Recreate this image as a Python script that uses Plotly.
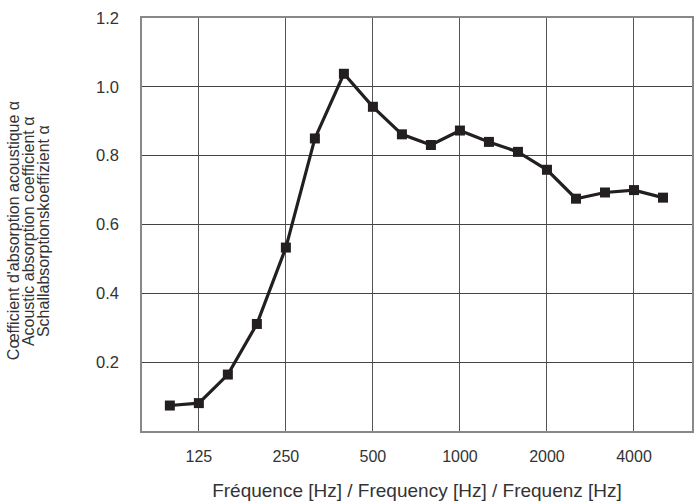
import plotly.graph_objects as go

# One-third octave band centre frequencies (Hz)
freqs = [100, 125, 160, 200, 250, 315, 400, 500, 630, 800,
         1000, 1250, 1600, 2000, 2500, 3150, 4000, 5000]
# Sound absorption coefficient alpha per band
alpha = [0.074, 0.081, 0.164, 0.311, 0.533, 0.850, 1.038, 0.942, 0.862, 0.831,
         0.873, 0.840, 0.811, 0.759, 0.675, 0.693, 0.700, 0.678]
# Octave bands that carry a tick label
tick_freqs = [125, 250, 500, 1000, 2000, 4000]
y_ticks = [0.2, 0.4, 0.6, 0.8, 1.0, 1.2]
y_title_lines = ["Cœfficient d'absorption acoustique α",
                 "Acoustic absorption coefficient α",
                 "Schallabsorptionskoeffizient α"]
x_title = "Fréquence [Hz] / Frequency [Hz] / Frequenz [Hz]"

pos = list(range(len(freqs)))
tick_pos = [freqs.index(f) for f in tick_freqs]

FONT = "Liberation Sans, Arial, sans-serif"
INK = "#231f20"

fig = go.Figure()
fig.add_trace(go.Scatter(
    x=pos, y=alpha, mode="lines+markers",
    line=dict(color=INK, width=3.2),
    marker=dict(symbol="square", size=10, color=INK),
    showlegend=False, hoverinfo="skip",
))

fig.update_xaxes(
    range=[-0.96, 18.0],
    tickmode="array", tickvals=tick_pos, ticktext=[str(f) for f in tick_freqs],
    showgrid=True, gridcolor="#555555", gridwidth=1,
    showline=True, linecolor="#888888", linewidth=1.5, mirror=True,
    ticks="", ticklabelstandoff=10, zeroline=False,
    tickfont=dict(family=FONT, size=16, color="#333333"),
    title=dict(text=x_title, font=dict(family=FONT, size=19, color="#333333"), standoff=20),
)
fig.update_yaxes(
    range=[0, 1.2],
    tickmode="array", tickvals=y_ticks, ticktext=[f"{v:.1f}" for v in y_ticks],
    showgrid=True, gridcolor="#444444", gridwidth=1,
    showline=True, linecolor="#888888", linewidth=1.5, mirror=True,
    ticks="", ticklabelstandoff=18, zeroline=False,
    tickfont=dict(family=FONT, size=16.5, color="#333333"),
)

# Three-language y-axis title, one annotation per line
for txt, px in zip(y_title_lines, [13, 28, 43]):
    fig.add_annotation(
        text=txt, textangle=-90, showarrow=False,
        xref="paper", yref="paper",
        x=(px - 142) / 552, y=0.485, xanchor="center", yanchor="middle",
        font=dict(family=FONT, size=16, color="#333333"),
    )

fig.update_layout(
    width=700, height=504,
    margin=dict(l=142, r=6, t=18, b=71),
    paper_bgcolor="white", plot_bgcolor="white",
)

fig.write_html("out.html")
